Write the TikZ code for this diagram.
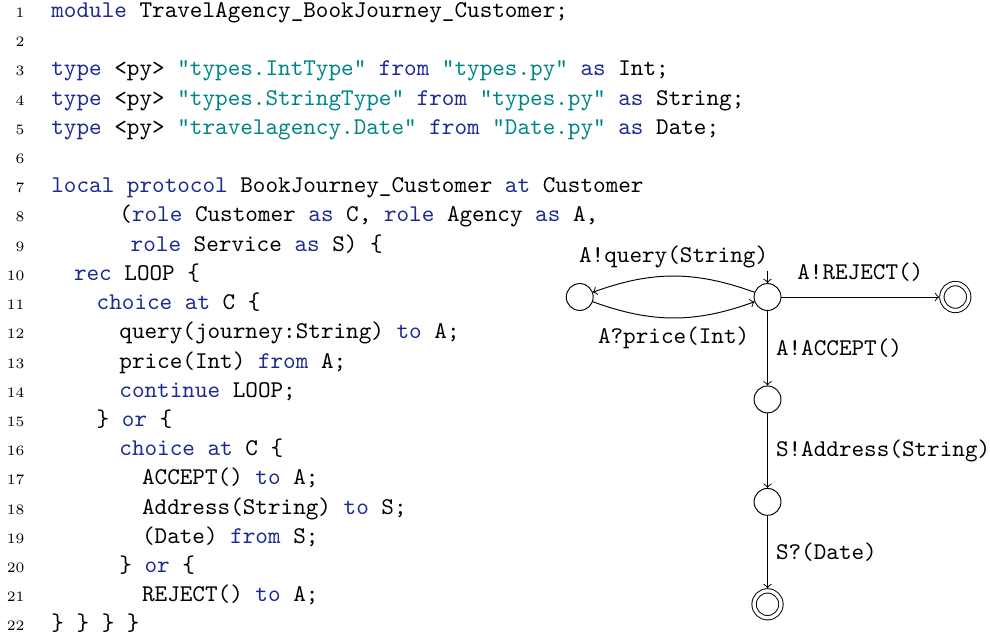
\documentclass[tikz,border=0pt]{standalone}
\usetikzlibrary{positioning}
\definecolor{kwblue}{RGB}{28,42,148}
\definecolor{strteal}{RGB}{0,133,133}
\newcommand{\kwd}[1]{\textcolor{kwblue}{#1}}
\newcommand{\strg}[1]{\textcolor{strteal}{#1}}
\begin{document}
\begin{tikzpicture}[font=\ttfamily, line join=round, >=to,
    lineno/.style={anchor=base east, inner sep=0pt, font=\rmfamily\fontsize{6}{7}\selectfont},
    code/.style={anchor=base west, inner sep=0pt, xshift=10.8pt},
    ind/.style={xshift=#1*4.725pt},
    state/.style={circle, draw, inner sep=0pt, minimum size=11.2pt},
    accept/.style={state, double, double distance=1.4pt, outer sep=1.1pt},
    node distance=1.5cm and 2.75cm, on grid]
  \useasboundingbox (0,0) rectangle (412.5pt,-265.4pt);
  \def\lh{12.17} % baseline skip of the listing
  % line numbers
  \foreach \n in {1,...,22}
    \node[lineno] (n\n) at (10.4pt,{-(7.3+(\n-1)*\lh)*1pt}) {\n};
  % listing
  \node[code] (l1) at (n1.base east) {\kwd{module} TravelAgency\_BookJourney\_Customer;};
  \node[code] (l3) at (n3.base east) {\kwd{type} <py> \strg{"types.IntType"} \kwd{from} \strg{"types.py"} \kwd{as} Int;};
  \node[code] (l4) at (n4.base east) {\kwd{type} <py> \strg{"types.StringType"} \kwd{from} \strg{"types.py"} \kwd{as} String;};
  \node[code] (l5) at (n5.base east) {\kwd{type} <py> \strg{"travelagency.Date"} \kwd{from} \strg{"Date.py"} \kwd{as} Date;};
  \node[code] (l7) at (n7.base east) {\kwd{local} \kwd{protocol} BookJourney\_Customer \kwd{at} Customer};
  \node[code, ind=6] (l8) at (n8.base east) {(\kwd{role} Customer \kwd{as} C, \kwd{role} Agency \kwd{as} A,};
  \node[code, ind=7] (l9) at (n9.base east) {\kwd{role} Service \kwd{as} S) \{};
  \node[code, ind=2] (l10) at (n10.base east) {\kwd{rec} LOOP \{};
  \node[code, ind=4] (l11) at (n11.base east) {\kwd{choice} \kwd{at} C \{};
  \node[code, ind=6] (l12) at (n12.base east) {query(journey:String) \kwd{to} A;};
  \node[code, ind=6] (l13) at (n13.base east) {price(Int) \kwd{from} A;};
  \node[code, ind=6] (l14) at (n14.base east) {\kwd{continue} LOOP;};
  \node[code, ind=4] (l15) at (n15.base east) {\} \kwd{or} \{};
  \node[code, ind=6] (l16) at (n16.base east) {\kwd{choice} \kwd{at} C \{};
  \node[code, ind=8] (l17) at (n17.base east) {ACCEPT() \kwd{to} A;};
  \node[code, ind=8] (l18) at (n18.base east) {Address(String) \kwd{to} S;};
  \node[code, ind=8] (l19) at (n19.base east) {(Date) \kwd{from} S;};
  \node[code, ind=6] (l20) at (n20.base east) {\} \kwd{or} \{};
  \node[code, ind=8] (l21) at (n21.base east) {REJECT() \kwd{to} A;};
  \node[code] (l22) at (n22.base east) {\} \} \} \}};
  % automaton
  \node[state] (q0) at (319.8pt,-123.75pt) {};
  \node[state] (q1) [left=of q0] {};
  \node[accept] (qr) [right=of q0] {};
  \node[state] (q2) [below=of q0] {};
  \node[state] (q3) [below=of q2] {};
  \node[accept] (q4) [below=of q3] {};
  \coordinate[above=5pt of q0.north] (init);
  \draw[->] (init) -- (q0);
  \draw[->] (q0) to[bend right=20] node[above] (lq) {A!query(String)} (q1);
  \draw[->] (q1) to[bend right=20] node[below] (lp) {A?price(Int)} (q0);
  \draw[->] (q0) -- node[above=3pt] (lr) {A!REJECT()} (qr);
  \draw[->] (q0) -- node[right] (la) {A!ACCEPT()} (q2);
  \draw[->] (q2) -- node[right] (ls) {S!Address(String)} (q3);
  \draw[->] (q3) -- node[right] (ld) {S?(Date)} (q4);
\end{tikzpicture}
\end{document}
